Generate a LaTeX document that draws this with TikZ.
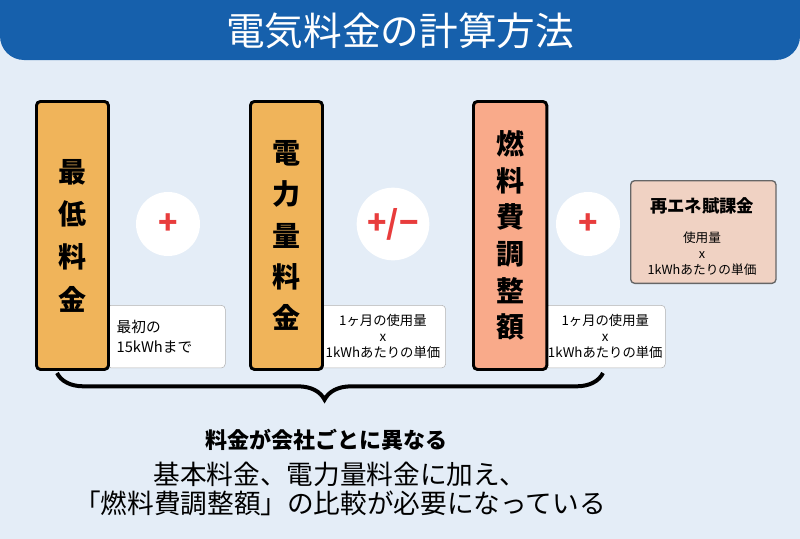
\documentclass[tikz,border=0pt]{standalone}
\usepackage{fontspec}
\setmainfont{Noto Sans CJK JP}
\usetikzlibrary{positioning,decorations.pathreplacing}
\definecolor{mybg}{RGB}{228,237,247}
\definecolor{myblue}{RGB}{22,96,172}
\definecolor{myorange}{RGB}{240,180,90}
\definecolor{mysalmon}{RGB}{249,170,138}
\definecolor{mypink}{RGB}{240,210,195}
\definecolor{myred}{RGB}{232,60,60}
\begin{document}
\begin{tikzpicture}[x=0.75pt,y=-0.75pt,
  bigbox/.style={draw,line width=2.2pt,rounded corners=3pt,anchor=north west,inner sep=0pt},
  notebox/.style={draw=black!30,fill=white,rounded corners=3pt,anchor=north west,inner sep=0pt,
    align=center,font=\fontsize{10}{12}\selectfont},
  opcircle/.style={circle,fill=white,minimum size=48pt,font=\fontsize{24}{24}\selectfont\bfseries,text=myred},
  vtext/.style={font=\fontsize{21}{32}\selectfont\bfseries,align=center}]

  \fill[mybg] (0,0) rectangle (800,539);
  \useasboundingbox (0,0) rectangle (800,539);
  \fill[myblue,rounded corners=18pt] (0,-30) rectangle (800,60);
  \node[text=white,font=\fontsize{29}{29}\selectfont] (title) at (400,31) {電気料金の計算方法};

  % columns
  \node[notebox,minimum width=88.5pt,minimum height=47pt] (n1) at (107,305) {};
  \node[anchor=west,align=left,font=\fontsize{11}{15}\selectfont] (n1t) at (112,337) {最初の\\15kWhまで};
  \node[bigbox,fill=myorange,minimum width=54pt,minimum height=201pt] (b1) at (35,100) {};
  \node[vtext] at (b1.center) {最\\低\\料\\金};

  \node[notebox,minimum width=94pt,minimum height=47pt] (n2) at (320,305) {1ヶ月の使用量\\x\\1kWhあたりの単価};
  \node[bigbox,fill=myorange,minimum width=54pt,minimum height=201pt] (b2) at (249,100) {};
  \node[vtext,font=\fontsize{21}{31}\selectfont\bfseries] at (b2.center) {電\\力\\量\\料\\金};

  \node[notebox,minimum width=90pt,minimum height=47pt] (n3) at (545,305) {1ヶ月の使用量\\x\\1kWhあたりの単価};
  \node[bigbox,fill=mysalmon,minimum width=55pt,minimum height=201pt] (b3) at (472,100) {};
  \node[vtext,font=\fontsize{21}{27.5}\selectfont\bfseries] at (b3.center) {燃\\料\\費\\調\\整\\額};

  \node[draw=black!60,line width=1pt,fill=mypink,rounded corners=3pt,anchor=north west,
    minimum width=109pt,minimum height=77pt] (b4) at (630,180) {};
  \node[font=\fontsize{13}{13}\selectfont\bfseries] (b4t) at (702,206) {再エネ賦課金};
  \node[align=center,font=\fontsize{9.5}{12}\selectfont] (b4n) at (702,254) {使用量\\x\\1kWhあたりの単価};

  \node[opcircle] (op1) at (168,224) {+};
  \node[opcircle] (op2) at (393,224) {+/−};
  \node[opcircle] (op3) at (588,224) {+};

  % brace
  \coordinate (bl) at (57,373);
  \coordinate (br) at (603,373);
  \draw[line width=3pt,decorate,decoration={brace,mirror,amplitude=20pt,aspect=0.49}] (bl) -- (br);

  \node[font=\fontsize{16.5}{16.5}\selectfont\bfseries] (diff) at (326,440) {料金が会社ごとに異なる};
  \node[font=\fontsize{20}{22}\selectfont,align=center] (sum) at (340,489) {基本料金、電力量料金に加え、\\「燃料費調整額」の比較が必要になっている};
\end{tikzpicture}
\end{document}
